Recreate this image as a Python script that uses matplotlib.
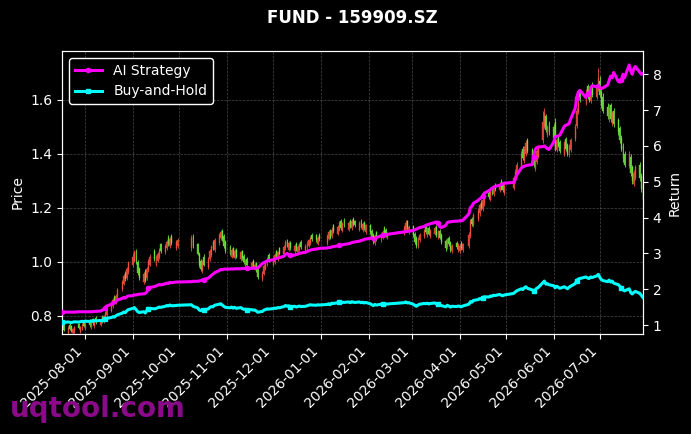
import matplotlib
matplotlib.use("Agg")
import matplotlib.pyplot as plt
import matplotlib.dates as mdates
import pandas as pd

# ---------------- data ----------------
title = "FUND - 159909.SZ"
first_day = "2025-07-17"
last_day = "2026-07-29"
market_holidays = ["2025-10-01", "2025-10-02", "2025-10-03", "2025-10-06", "2025-10-07",
                   "2025-10-08", "2026-01-01", "2026-01-02", "2026-02-16", "2026-02-17",
                   "2026-02-18", "2026-02-19", "2026-02-20", "2026-02-23", "2026-04-06",
                   "2026-05-01", "2026-05-04", "2026-05-05", "2026-06-19"]
month_ticks = pd.date_range("2025-08-01", "2026-07-01", freq="MS")
price_ticks = [0.8, 1.0, 1.2, 1.4, 1.6]
return_ticks = [1, 2, 3, 4, 5, 6, 7, 8]

PRICE_UNIT = 1000.0   # prices below are in thousandths
RET_UNIT = 100.0      # returns below are in hundredths

closes = [
    752, 748, 755, 750, 745, 752, 758, 754, 760, 768, 762,
    770, 765, 775, 772, 780, 776, 785, 780, 798, 812, 825, 842, 858, 850, 875, 895, 925, 948, 935, 972, 995,
    1020, 1035, 1000, 960, 940, 955, 930, 975, 1005, 1020, 1010, 1018, 1030, 1045, 1040, 1060, 1075, 1065, 1085, 1070, 1075, 1080,
    1090, 1060, 1030, 990, 975, 1000, 990, 1010, 1040, 1055, 1050, 1080, 1100, 1110, 1085, 1060, 1040,
    1030, 1045, 1025, 1040, 1020, 1035, 1015, 1000, 1005, 990, 995, 985, 990, 970, 945, 960, 985, 995, 1010, 1005,
    1015, 1025, 1020, 1035, 1030, 1055, 1075, 1060, 1070, 1050, 1060, 1045, 1055, 1065, 1055, 1060, 1070, 1080, 1090, 1085, 1080, 1090, 1085,
    1095, 1110, 1090, 1120, 1115, 1130, 1145, 1125, 1140, 1135, 1145, 1130, 1150, 1140, 1135, 1145, 1130, 1140, 1125, 1135,
    1110, 1090, 1075, 1095, 1085, 1100, 1110, 1105, 1100, 1105, 1130, 1145, 1125, 1130,
    1100, 1075, 1060, 1085, 1100, 1115, 1110, 1120, 1105, 1115, 1125, 1100, 1110, 1090, 1075, 1050, 1080, 1065, 1045, 1060, 1055, 1065,
    1060, 1050, 1065, 1100, 1150, 1140, 1175, 1190, 1210, 1200, 1230, 1245, 1240, 1260, 1255, 1275, 1270, 1290, 1275, 1265, 1280,
    1310, 1335, 1360, 1400, 1385, 1420, 1440, 1410, 1380, 1360, 1375, 1410, 1425, 1520, 1550, 1490, 1500, 1480,
    1460, 1420, 1450, 1430, 1410, 1440, 1420, 1400, 1430, 1450, 1500, 1560, 1590, 1600, 1630, 1610, 1600, 1630, 1620, 1650, 1680,
    1620, 1580, 1560, 1540, 1570, 1530, 1550, 1510, 1480, 1450, 1420, 1380, 1360, 1400, 1330, 1300, 1330, 1350, 1310, 1270, 1230,
]
opens = [
    770, 765, 738, 768, 762, 735, 742, 770, 742, 750, 778,
    752, 782, 758, 788, 762, 792, 768, 796, 778, 792, 805, 820, 836, 870, 852, 870, 898, 920, 958, 940, 962,
    990, 1005, 1040, 1000, 975, 925, 965, 940, 970, 990, 1040, 990, 1005, 1020, 1065, 1035, 1050, 1090, 1058, 1095, 1050, 1060,
    1050, 1095, 1065, 1030, 1005, 965, 1020, 980, 1010, 1025, 1075, 1045, 1070, 1090, 1115, 1095, 1075,
    1055, 1020, 1050, 1015, 1045, 1010, 1040, 1022, 985, 1012, 980, 1005, 975, 995, 975, 935, 955, 975, 990, 1025,
    990, 1000, 1040, 1010, 1050, 1030, 1050, 1080, 1045, 1072, 1040, 1068, 1035, 1045, 1075, 1040, 1050, 1060, 1070, 1100, 1098, 1068, 1100,
    1070, 1085, 1115, 1095, 1135, 1105, 1120, 1150, 1115, 1155, 1120, 1150, 1125, 1160, 1150, 1120, 1152, 1118, 1145, 1110,
    1135, 1115, 1100, 1070, 1110, 1080, 1090, 1125, 1118, 1090, 1105, 1120, 1150, 1110,
    1130, 1105, 1090, 1060, 1080, 1095, 1130, 1100, 1125, 1095, 1105, 1128, 1090, 1115, 1100, 1078, 1055, 1090, 1070, 1040, 1072, 1045,
    1040, 1070, 1045, 1060, 1095, 1160, 1135, 1160, 1180, 1220, 1195, 1215, 1255, 1230, 1270, 1250, 1285, 1265, 1300, 1285, 1255,
    1275, 1300, 1330, 1355, 1420, 1375, 1400, 1450, 1415, 1395, 1345, 1370, 1390, 1450, 1505, 1540, 1470, 1515,
    1500, 1520, 1415, 1465, 1445, 1400, 1455, 1435, 1395, 1415, 1455, 1505, 1555, 1630, 1590, 1650, 1640, 1595, 1655, 1610, 1640,
    1670, 1630, 1610, 1575, 1530, 1580, 1515, 1560, 1525, 1495, 1460, 1430, 1400, 1355, 1390, 1350, 1290, 1310, 1360, 1320, 1285,
]
highs = [
    776, 770, 762, 772, 766, 756, 762, 774, 764, 774, 782,
    778, 788, 781, 794, 786, 798, 791, 802, 804, 818, 832, 850, 866, 878, 882, 902, 934, 956, 966, 980, 1005,
    1032, 1045, 1048, 1008, 982, 962, 972, 982, 1012, 1030, 1048, 1026, 1038, 1052, 1072, 1066, 1082, 1098, 1092, 1102, 1082, 1088,
    1100, 1102, 1072, 1038, 1012, 1008, 1028, 1018, 1048, 1062, 1082, 1088, 1108, 1120, 1122, 1102, 1082,
    1062, 1052, 1056, 1048, 1052, 1042, 1046, 1028, 1012, 1018, 1002, 1010, 996, 1000, 982, 968, 992, 1002, 1018, 1032,
    1022, 1032, 1046, 1042, 1056, 1062, 1082, 1086, 1078, 1078, 1066, 1074, 1062, 1072, 1082, 1066, 1076, 1086, 1096, 1106, 1104, 1096, 1106,
    1102, 1118, 1122, 1128, 1142, 1138, 1152, 1158, 1148, 1162, 1152, 1158, 1158, 1166, 1156, 1152, 1160, 1148, 1152, 1142,
    1142, 1122, 1106, 1102, 1116, 1108, 1118, 1132, 1124, 1112, 1138, 1154, 1156, 1138,
    1138, 1112, 1096, 1092, 1108, 1122, 1136, 1128, 1132, 1122, 1132, 1135, 1118, 1122, 1106, 1084, 1088, 1096, 1076, 1066, 1078, 1072,
    1068, 1076, 1072, 1110, 1160, 1168, 1182, 1198, 1218, 1228, 1238, 1252, 1262, 1268, 1276, 1282, 1292, 1298, 1308, 1292, 1288,
    1318, 1345, 1370, 1410, 1428, 1430, 1450, 1458, 1422, 1402, 1384, 1418, 1434, 1560, 1570, 1548, 1508, 1522,
    1510, 1535, 1460, 1472, 1452, 1448, 1462, 1442, 1438, 1458, 1510, 1570, 1600, 1640, 1640, 1660, 1650, 1640, 1665, 1660, 1720,
    1690, 1645, 1625, 1590, 1585, 1590, 1560, 1570, 1535, 1505, 1470, 1440, 1410, 1410, 1400, 1360, 1340, 1360, 1370, 1330, 1295,
]
lows = [
    748, 744, 734, 746, 740, 731, 738, 750, 738, 746, 758,
    746, 759, 752, 766, 756, 770, 762, 774, 772, 786, 799, 814, 830, 844, 846, 864, 892, 914, 928, 934, 956,
    982, 998, 994, 952, 932, 918, 924, 934, 962, 984, 1002, 984, 998, 1012, 1032, 1028, 1044, 1058, 1052, 1062, 1044, 1052,
    1042, 1052, 1024, 982, 968, 958, 984, 972, 1002, 1018, 1044, 1038, 1062, 1082, 1078, 1052, 1032,
    1024, 1014, 1018, 1010, 1014, 1004, 1008, 994, 980, 984, 975, 980, 970, 964, 938, 930, 950, 970, 984, 998,
    984, 994, 1014, 1004, 1024, 1024, 1044, 1054, 1040, 1044, 1034, 1040, 1030, 1040, 1048, 1034, 1044, 1054, 1064, 1078, 1074, 1062, 1078,
    1064, 1080, 1084, 1090, 1108, 1100, 1114, 1118, 1110, 1128, 1114, 1124, 1118, 1134, 1128, 1114, 1124, 1112, 1118, 1104,
    1104, 1084, 1066, 1064, 1078, 1074, 1084, 1098, 1094, 1084, 1098, 1114, 1118, 1104,
    1094, 1068, 1052, 1052, 1074, 1088, 1104, 1094, 1098, 1088, 1098, 1094, 1084, 1084, 1068, 1042, 1048, 1058, 1038, 1034, 1048, 1038,
    1034, 1044, 1038, 1052, 1088, 1132, 1128, 1152, 1172, 1192, 1188, 1208, 1232, 1224, 1248, 1244, 1262, 1258, 1268, 1258, 1248,
    1268, 1294, 1322, 1348, 1378, 1368, 1394, 1402, 1372, 1352, 1338, 1362, 1384, 1440, 1498, 1482, 1462, 1472,
    1452, 1412, 1408, 1424, 1402, 1392, 1412, 1392, 1388, 1408, 1448, 1498, 1548, 1592, 1582, 1602, 1592, 1588, 1612, 1602, 1632,
    1610, 1570, 1550, 1530, 1520, 1520, 1505, 1500, 1470, 1440, 1410, 1370, 1350, 1348, 1320, 1290, 1282, 1302, 1300, 1260, 1210,
]
ai_strategy = [
    136, 136, 136, 136, 136, 136, 136, 137, 137, 137, 137,
    137, 137, 137, 137, 138, 138, 139, 141, 144, 148, 153, 158, 163, 161, 166, 170, 174, 177, 175, 179, 181,
    182, 184, 184, 185, 186, 187, 188, 192, 202, 205, 207, 209, 211, 213, 212, 215, 217, 216, 219, 218, 220, 220,
    221, 222, 222, 223, 224, 226, 227, 231, 235, 239, 242, 246, 252, 255, 254, 256, 256,
    256, 257, 256, 257, 257, 257, 258, 258, 258, 258, 258, 259, 258, 259, 259, 272, 274, 276, 279, 280,
    282, 284, 286, 287, 288, 292, 297, 300, 297, 295, 295, 297, 298, 300, 301, 303, 305, 307, 309, 310, 312, 313, 314,
    315, 316, 316, 318, 319, 321, 323, 322, 324, 325, 327, 328, 330, 331, 332, 334, 336, 337, 339, 340,
    342, 344, 338, 337, 344, 349, 350, 351, 352, 353, 360, 361, 361, 362,
    364, 366, 368, 370, 372, 375, 378, 380, 381, 383, 386, 388, 384, 375, 372, 378, 386, 388, 388, 389, 390, 390,
    391, 391, 392, 410, 428, 432, 440, 448, 452, 455, 460, 468, 475, 478, 482, 485, 487, 490, 492, 494, 496,
    498, 505, 518, 538, 542, 543, 545, 546, 548, 570, 590, 595, 597, 598, 600, 596, 592, 590,
    610, 625, 627, 628, 630, 655, 658, 660, 662, 675, 705, 735, 750, 755, 735, 748, 740, 762, 768, 765, 770,
    762, 760, 762, 770, 782, 795, 790, 805, 780, 778, 785, 800, 790, 826, 810, 800, 815, 822, 805, 800, 802,
]
bh_first_value = 1.08   # buy-and-hold return on the first day

# ---------------- styling ----------------
BG = "black"
UP = "#f0503c"
DOWN = "#6ee83c"
AI_COLOR = "#ff00ff"
BH_COLOR = "#00ffff"

days = pd.bdate_range(first_day, last_day)
days = days[~days.isin(pd.to_datetime(market_holidays))]
n = min(len(days), len(closes), len(opens), len(highs), len(lows), len(ai_strategy))
days = days[:n]
x = mdates.date2num(days.to_pydatetime())
o = [v / PRICE_UNIT for v in opens[:n]]
c = [v / PRICE_UNIT for v in closes[:n]]
h = [v / PRICE_UNIT for v in highs[:n]]
l = [v / PRICE_UNIT for v in lows[:n]]
ai = [v / RET_UNIT for v in ai_strategy[:n]]
bh = [ci / c[0] * bh_first_value for ci in c]

fig = plt.figure(figsize=(6.91, 4.34), dpi=100, facecolor=BG)
ax = fig.add_axes([62 / 691, 1 - 334 / 434, (643 - 62) / 691, (334 - 51) / 434])
ax.set_facecolor(BG)

colors = [UP if ci >= oi else DOWN for oi, ci in zip(o, c)]
ax.vlines(x, [min(a, b, d) for a, b, d in zip(l, o, c)], [max(a, b, d) for a, b, d in zip(h, o, c)],
          colors=colors, linewidth=0.7, alpha=0.85, zorder=2)
ax.bar(x, [abs(ci - oi) for oi, ci in zip(o, c)], bottom=[min(oi, ci) for oi, ci in zip(o, c)],
       width=0.6, color=colors, edgecolor=colors, linewidth=0.3, alpha=0.85, zorder=2)

ax.set_xlim(x[0], x[-1])
ax.set_ylim(0.733, 1.7815)
ax.set_yticks(price_ticks)
ax.set_xticks(mdates.date2num(month_ticks.to_pydatetime()))
ax.xaxis.set_major_formatter(mdates.DateFormatter("%Y-%m-%d"))
ax.grid(True, color="#777777", linestyle="--", linewidth=0.5, alpha=0.6)
ax.set_axisbelow(True)
ax.set_ylabel("Price", color="white", fontsize=10)
plt.setp(ax.get_xticklabels(), rotation=45, ha="right")

ax2 = ax.twinx()
ax2.plot(x, ai, color=AI_COLOR, linewidth=2.2, marker="o", markersize=3, markevery=20,
         label="AI Strategy", zorder=4)
ax2.plot(x, bh, color=BH_COLOR, linewidth=2.2, marker="s", markersize=3, markevery=20,
         label="Buy-and-Hold", zorder=3)
ax2.set_ylim(0.749, 8.65)
ax2.set_yticks(return_ticks)
ax2.set_ylabel("Return", color="white", fontsize=10)

for a in (ax, ax2):
    a.tick_params(colors="white", labelsize=10)
    for s in a.spines.values():
        s.set_color("white")

leg = ax2.legend(loc="upper left", facecolor="black", edgecolor="white", fontsize=10,
                 framealpha=1.0)
for t in leg.get_texts():
    t.set_color("white")

fig.text(352 / 691, 1 - 18 / 434, title, color="white", fontsize=12, fontweight="bold",
         ha="center", va="center")
fig.text(10 / 691, 1 - 409 / 434, "uqtool.com", color="#8a0a8a", fontsize=20,
         fontweight="bold", ha="left", va="center")

fig.savefig("out.png", dpi=100, facecolor=BG)
